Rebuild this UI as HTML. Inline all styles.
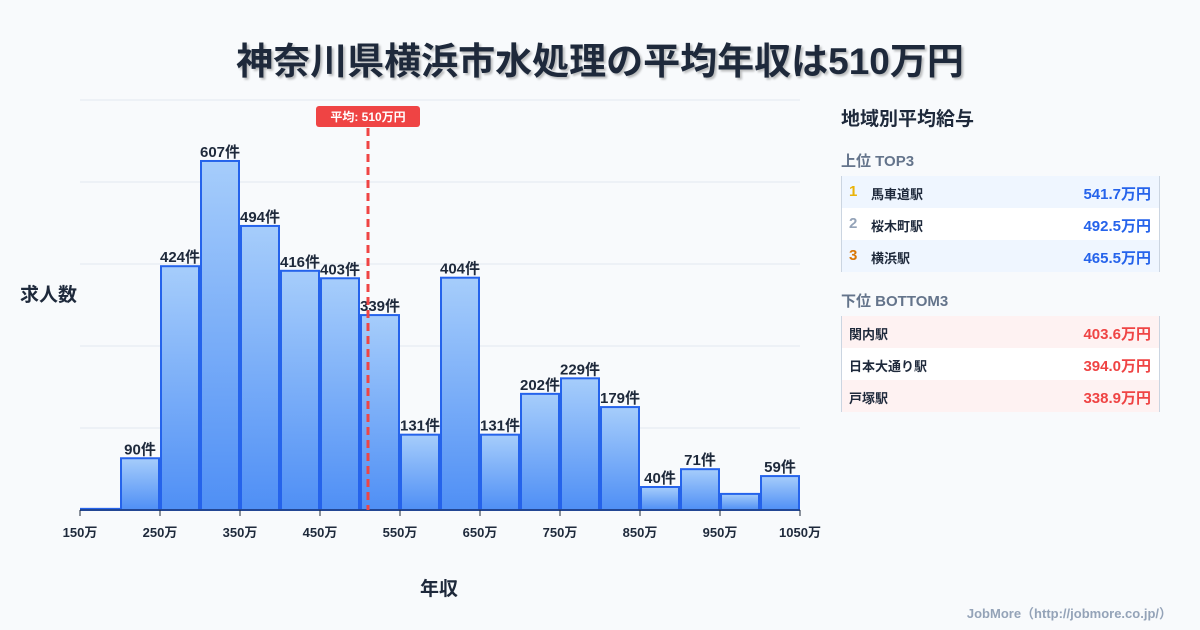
<!DOCTYPE html>
<html><head><meta charset="utf-8"><style>
body{margin:0;width:1200px;height:630px;background:#f8fafc;font-family:"Liberation Sans","Noto Sans CJK JP",sans-serif;overflow:hidden;position:relative}
.t{position:absolute;white-space:nowrap}
.row{position:absolute;left:841px;width:319px;height:32px;font-size:13px;font-weight:bold;color:#1e293b;border-left:1px solid #cbd5e1;border-right:1px solid #cbd5e1;box-sizing:border-box}
.row span{position:absolute;top:8px}
.row .v{right:8px;font-size:15px;top:7px}
.row .n{left:7px;font-size:15px;top:7px}
</style></head><body>
<div class="t" style="left:0;width:1200px;text-align:center;top:31px;font-size:37px;font-weight:bold;color:#1e293b;text-shadow:2px 2px 2px rgba(0,0,0,0.25)">神奈川県横浜市水処理の平均年収は510万円</div>
<svg id="c" width="1200" height="630" style="position:absolute;left:0;top:0">
<defs><linearGradient id="g" x1="0" y1="0" x2="0" y2="1"><stop offset="0" stop-color="#a6cdfb"/><stop offset="1" stop-color="#4f8ff5"/></linearGradient></defs>
</svg>
<div class="t" style="left:20px;top:280px;font-size:19px;font-weight:bold;color:#1e293b">求人数</div>
<div class="t" style="left:420px;top:574px;font-size:19px;font-weight:bold;color:#1e293b">年収</div>
<div class="t" style="left:841px;top:104px;font-size:19px;font-weight:bold;color:#1e293b">地域別平均給与</div>
<div class="t" style="left:841px;top:150px;font-size:15px;font-weight:bold;color:#64748b">上位 TOP3</div>
<div class="row" style="top:176px;background:#eff6ff"><span class="n" style="color:#eab308">1</span><span style="left:29px">馬車道駅</span><span class="v" style="color:#2563eb">541.7万円</span></div>
<div class="row" style="top:208px;background:#fff"><span class="n" style="color:#94a3b8">2</span><span style="left:29px">桜木町駅</span><span class="v" style="color:#2563eb">492.5万円</span></div>
<div class="row" style="top:240px;background:#eff6ff"><span class="n" style="color:#d97706">3</span><span style="left:29px">横浜駅</span><span class="v" style="color:#2563eb">465.5万円</span></div>
<div class="t" style="left:841px;top:290px;font-size:15px;font-weight:bold;color:#64748b">下位 BOTTOM3</div>
<div class="row" style="top:316px;background:#fef2f2"><span style="left:7px">関内駅</span><span class="v" style="color:#ef4444">403.6万円</span></div>
<div class="row" style="top:348px;background:#fff"><span style="left:7px">日本大通り駅</span><span class="v" style="color:#ef4444">394.0万円</span></div>
<div class="row" style="top:380px;background:#fef2f2"><span style="left:7px">戸塚駅</span><span class="v" style="color:#ef4444">338.9万円</span></div>
<div class="t" style="right:28px;top:603px;font-size:13px;font-weight:bold;color:#94a3b8">JobMore（http://jobmore.co.jp/）</div>
<script>
const binStarts=[150,200,250,300,350,400,450,500,550,600,650,700,750,800,850,900,950,1000];
const counts=[2,90,424,607,494,416,403,339,131,404,131,202,229,179,40,71,28,59];
const showLabel=[false,true,true,true,true,true,true,true,true,true,true,true,true,true,true,true,false,true];
const tickValues=[150,250,350,450,550,650,750,850,950,1050];
const meanValue=510;
const binWidth=50;
const svg=document.getElementById('c');
const NS='http://www.w3.org/2000/svg';
const x=v=>80+(v-150)*0.8;
const y=v=>510-v*0.575;
function mk(t,a){const e=document.createElementNS(NS,t);for(const k in a)e.setAttribute(k,a[k]);svg.appendChild(e);return e;}
for(let i=0;i<=5;i++){const g=mk('line',{x1:80,x2:800,y1:510-i*82,y2:510-i*82,stroke:'#e2e8f0','stroke-width':1});

}
binStarts.forEach((b,i)=>{
const x0=x(b),x1=x(b+binWidth),yt=y(counts[i]);
const r=mk('rect',{x:x0+1,y:yt,width:x1-x0-2,height:510-yt,fill:'url(#g)',stroke:'#2563eb','stroke-width':2});


if(showLabel[i]){const t=mk('text',{x:(x0+x1)/2,y:yt-4,'text-anchor':'middle','font-size':15,'font-weight':'bold',fill:'#1e293b'});t.textContent=counts[i]+'件';

}
});
mk('line',{x1:80,x2:800,y1:510,y2:510,stroke:'#1e293b','stroke-width':1});
tickValues.forEach(v=>{
const l=mk('line',{x1:x(v),x2:x(v),y1:510,y2:516,stroke:'#1e293b','stroke-width':1});


const t=mk('text',{x:x(v),y:537,'text-anchor':'middle','font-size':13,'font-weight':'bold',fill:'#1e293b'});t.textContent=v+'万';


});
const ml=mk('line',{x1:x(meanValue),x2:x(meanValue),y1:128,y2:510,stroke:'#ef4444','stroke-width':3,'stroke-dasharray':'8,5'});


const mb=mk('rect',{x:x(meanValue)-52,y:106,width:104,height:21,rx:3,fill:'#ef4444'});


const mt=mk('text',{x:x(meanValue),y:121,'text-anchor':'middle','font-size':12,'font-weight':'bold',fill:'#fff'});mt.textContent='平均: '+meanValue+'万円';


</script>
</body></html>
